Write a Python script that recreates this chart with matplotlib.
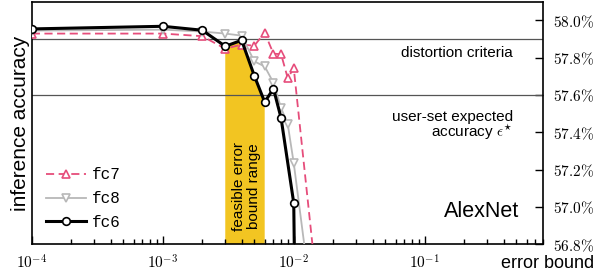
import numpy as np
import matplotlib.pyplot as plt
from matplotlib.ticker import FixedLocator, FuncFormatter, LogLocator, NullFormatter

plt.rcParams['font.family'] = ['Liberation Sans', 'DejaVu Sans']
plt.rcParams['mathtext.fontset'] = 'cm'

# error bounds and accuracies (%)
eb_fc6 = [1e-4, 1e-3, 2e-3, 3e-3, 4e-3, 5e-3, 6e-3, 7e-3, 8e-3, 1e-2, 2e-2]
acc_fc6 = [57.954, 57.968, 57.947, 57.861, 57.893, 57.703, 57.562, 57.634, 57.477, 57.021, 40.0]

eb_fc7 = [1e-4, 1e-3, 2e-3, 3e-3, 4e-3, 5e-3, 6e-3, 7e-3, 8e-3, 9e-3, 1e-2, 2e-2]
acc_fc7 = [57.929, 57.929, 57.915, 57.848, 57.870, 57.864, 57.934, 57.821, 57.819, 57.690, 57.744, 55.75]

eb_fc8 = [1e-4, 1e-3, 2e-3, 3e-3, 4e-3, 5e-3, 6e-3, 7e-3, 8e-3, 9e-3, 1e-2, 2e-2]
acc_fc8 = [57.945, 57.950, 57.940, 57.929, 57.918, 57.780, 57.753, 57.666, 57.531, 57.443, 57.235, 55.6]

distortion_criteria = 57.90
expected_accuracy = 57.60
feasible_range = (3e-3, 6e-3)

y_ticks = [56.8, 57.0, 57.2, 57.4, 57.6, 57.8, 58.0]

fig = plt.figure(figsize=(6, 2.77), dpi=100)
ax = fig.add_axes([0.053, 0.118, 0.852, 0.876])

red = '#e64d7b'
gray = '#b8b8b8'

# yellow band under the fc6 curve
x6 = np.array(eb_fc6)
y6 = np.array(acc_fc6)
m = (x6 >= feasible_range[0]) & (x6 <= feasible_range[1])
ax.fill_between(x6[m], y6[m], 56.0, color='#f2c522', lw=0, zorder=1)

ax.axhline(distortion_criteria, color='#555555', lw=0.9, zorder=2)
ax.axhline(expected_accuracy, color='#555555', lw=0.9, zorder=2)

ax.plot(eb_fc7, acc_fc7, color=red, ls=(0, (4.5, 2.5)), lw=1.3, marker='^',
        ms=5.5, mfc='white', mec=red, mew=1.2, label='fc7', zorder=3)
ax.plot(eb_fc8, acc_fc8, color=gray, lw=1.3, marker='v',
        ms=5.5, mfc='white', mec=gray, mew=1.2, label='fc8', zorder=4)
ax.plot(eb_fc6, acc_fc6, color='black', lw=2.2, marker='o',
        ms=5.5, mfc='white', mec='black', mew=1.2, label='fc6', zorder=5)

ax.set_xscale('log')
ax.set_xlim(1e-4, 0.8)
ax.set_ylim(56.8, 58.1)

ax.yaxis.tick_right()
ax.yaxis.set_major_locator(FixedLocator(y_ticks))
ax.yaxis.set_major_formatter(FuncFormatter(lambda v, p: r'$%.1f\%%$' % v))
ax.xaxis.set_major_locator(LogLocator(base=10, numticks=10))
ax.xaxis.set_minor_locator(LogLocator(base=10, subs=np.arange(2, 10), numticks=10))
ax.xaxis.set_minor_formatter(NullFormatter())
ax.xaxis.set_major_formatter(FuncFormatter(lambda v, p: r'$10^{%d}$' % round(np.log10(v))))
ax.tick_params(which='both', direction='in', labelsize=11, width=1)
ax.tick_params(which='major', length=6)
ax.tick_params(which='minor', length=3.5)
ax.tick_params(axis='y', pad=7)
ax.tick_params(axis='x', pad=7)
for s in ax.spines.values():
    s.set_linewidth(1.2)

ax.set_ylabel('inference accuracy', fontsize=15, labelpad=1)
ax.yaxis.set_label_position('left')
ax.text(1.1, -0.08, 'error bound', transform=ax.transAxes, ha='right',
        va='center', fontsize=13)

ax.text(0.941, 0.79, 'distortion criteria', transform=ax.transAxes,
        ha='right', va='center', fontsize=11)
ax.text(0.941, 0.526, 'user-set expected', transform=ax.transAxes,
        ha='right', va='center', fontsize=11)
ax.text(0.941, 0.462, r'accuracy $\epsilon^{\star}$', transform=ax.transAxes,
        ha='right', va='center', fontsize=11)
ax.text(0.953, 0.134, 'AlexNet', transform=ax.transAxes,
        ha='right', va='center', fontsize=15.5)
ax.text(4.35e-3, 57.11, 'feasible error\nbound range', rotation=90,
        ha='center', va='center', fontsize=11, linespacing=1.1)

leg = ax.legend(loc='lower left', bbox_to_anchor=(0.0, 0.0), frameon=False,
                prop={'family': 'Liberation Mono', 'size': 11.5},
                handlelength=2.5, handletextpad=0.35, labelspacing=0.55)

fig.savefig('out.png', dpi=100)
